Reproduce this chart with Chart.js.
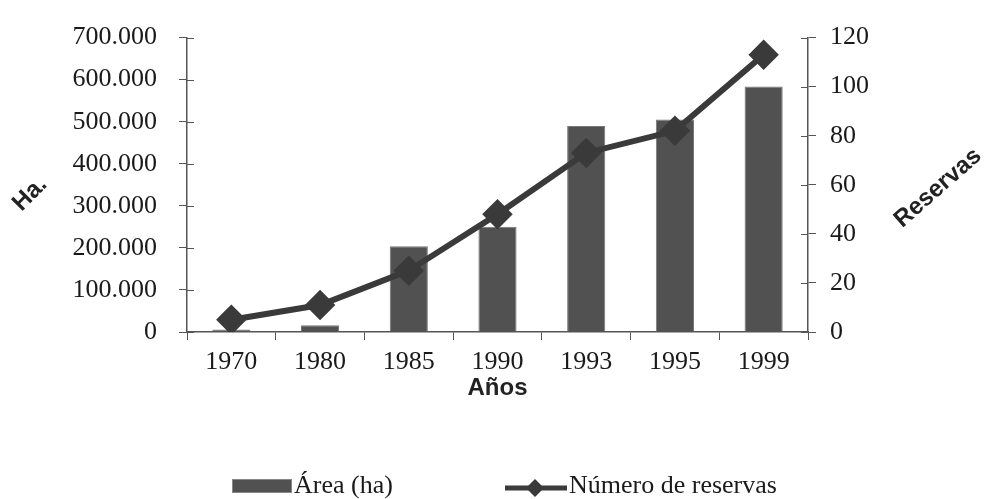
<!DOCTYPE html>
<html>
<head>
<meta charset="utf-8">
<script src="https://cdn.jsdelivr.net/npm/chart.js@4"></script>
<style>
  html, body { margin: 0; padding: 0; background: #fff; }
  #wrap { width: 987px; height: 499px; position: relative; }
</style>
</head>
<body>
<div id="wrap"><canvas id="chart"></canvas></div>
<script>
// data
var years = ['1970', '1980', '1985', '1990', '1993', '1995', '1999'];
var areaHa = [6000, 16000, 204000, 250000, 490000, 505000, 584000];
var numReservas = [5, 11, 25, 48, 73, 82, 113];
var leftTickLabels = ['0', '100.000', '200.000', '300.000', '400.000', '500.000', '600.000', '700.000'];
var rightTickLabels = ['0', '20', '40', '60', '80', '100', '120'];
var areaLabel = 'Área (ha)';
var reservasLabel = 'Número de reservas';

var serif = '"Liberation Serif", "Times New Roman", serif';
var sans = '"Liberation Sans", Arial, sans-serif';
var ink = '#1a1a1a';
var axisColor = '#555';
var barFill = '#515151';
var lineColor = '#3a3a3a';

// rotated axis titles, x title, inner tick marks and the legend
var extras = {
    id: 'extras',
    beforeDatasetsDraw: function(chart) {
        var ctx = chart.ctx;
        ctx.save();
        ctx.strokeStyle = axisColor;
        ctx.lineWidth = 1;
        var yl = chart.scales.y, yr = chart.scales.y1;
        yl.ticks.forEach(function(t) {
            var p = Math.round(yl.getPixelForValue(t.value)) + 0.5;
            ctx.beginPath(); ctx.moveTo(yl.right, p); ctx.lineTo(yl.right + 7, p); ctx.stroke();
        });
        yr.ticks.forEach(function(t) {
            var p = Math.round(yr.getPixelForValue(t.value)) + 0.5;
            ctx.beginPath(); ctx.moveTo(yr.left - 7, p); ctx.lineTo(yr.left, p); ctx.stroke();
        });
        ctx.restore();
    },
    afterDraw: function(chart) {
        var ctx = chart.ctx;
        var area = chart.chartArea;
        ctx.save();
        ctx.fillStyle = '#222';
        ctx.font = 'bold 24px ' + sans;
        ctx.textAlign = 'center';
        ctx.textBaseline = 'middle';

        ctx.save();
        ctx.translate(30, 194);
        ctx.rotate(-Math.PI / 4);
        ctx.fillText('Ha.', 0, 0);
        ctx.restore();

        ctx.save();
        ctx.translate(938, 188);
        ctx.rotate(-0.72);
        ctx.fillText('Reservas', 0, 0);
        ctx.restore();

        ctx.fillText('Años', (area.left + area.right) / 2, 388);

        // legend
        var ly = 486;
        ctx.fillStyle = barFill;
        ctx.fillRect(232, 479, 60, 14);
        ctx.strokeStyle = '#888';
        ctx.lineWidth = 1;
        ctx.strokeRect(232.5, 479.5, 59, 13);

        ctx.strokeStyle = lineColor;
        ctx.lineWidth = 5;
        ctx.beginPath();
        ctx.moveTo(505, ly + 2);
        ctx.lineTo(567, ly + 2);
        ctx.stroke();
        ctx.fillStyle = lineColor;
        ctx.beginPath();
        ctx.moveTo(535, ly - 7);
        ctx.lineTo(544, ly + 2);
        ctx.lineTo(535, ly + 11);
        ctx.lineTo(526, ly + 2);
        ctx.closePath();
        ctx.fill();

        ctx.fillStyle = ink;
        ctx.font = '26px ' + serif;
        ctx.textAlign = 'left';
        ctx.fillText(areaLabel, 294, ly);
        ctx.fillText(reservasLabel, 569, ly);
        ctx.restore();
    }
};

var ctx = document.getElementById('chart');
var chart = new Chart(ctx, {
    type: 'bar',
    data: {
        labels: years,
        datasets: [{
            type: 'line',
            label: reservasLabel,
            data: numReservas,
            yAxisID: 'y1',
            borderColor: lineColor,
            backgroundColor: lineColor,
            borderWidth: 6,
            pointStyle: 'rectRot',
            pointRadius: 11,
            pointHoverRadius: 11,
            fill: false,
            tension: 0,
            order: 0
        }, {
            type: 'bar',
            label: areaLabel,
            data: areaHa,
            yAxisID: 'y',
            backgroundColor: barFill,
            borderColor: '#777',
            borderWidth: 1,
            categoryPercentage: 1,
            barPercentage: 0.43,
            order: 1
        }]
    },
    options: {
        responsive: true,
        maintainAspectRatio: false,
        animation: false,
        layout: { padding: { top: 34, left: 0, right: 0, bottom: 0 } },
        plugins: {
            legend: { display: false },
            tooltip: { enabled: false }
        },
        scales: {
            x: {
                grid: { drawOnChartArea: false, drawTicks: true, tickLength: 8, color: axisColor, offset: true },
                border: { color: axisColor, width: 1.5 },
                ticks: { color: ink, font: { family: serif, size: 26 }, padding: 7, maxRotation: 0 },
                afterFit: function(scale) { scale.height = 167; }
            },
            y: {
                position: 'left',
                min: 0,
                max: 700000,
                grid: { drawOnChartArea: false, drawTicks: true, tickLength: 8, color: axisColor },
                border: { color: axisColor, width: 1.5 },
                ticks: {
                    stepSize: 100000,
                    color: ink,
                    font: { family: serif, size: 26 },
                    padding: 22,
                    callback: function(v, i) { return leftTickLabels[i]; }
                },
                afterFit: function(scale) { scale.width = 187; }
            },
            y1: {
                position: 'right',
                min: 0,
                max: 120,
                grid: { drawOnChartArea: false, drawTicks: true, tickLength: 8, color: axisColor },
                border: { color: axisColor, width: 1.5 },
                ticks: {
                    stepSize: 20,
                    color: ink,
                    font: { family: serif, size: 26 },
                    padding: 14,
                    callback: function(v, i) { return rightTickLabels[i]; }
                },
                afterFit: function(scale) { scale.width = 179; }
            }
        }
    },
    plugins: [extras]
});
</script>
</body>
</html>
